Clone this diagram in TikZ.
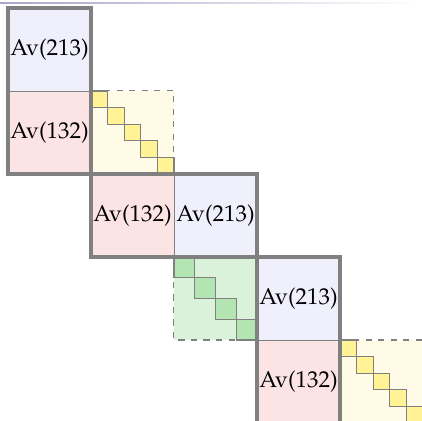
\documentclass[tikz,border=0pt]{standalone}
\usepackage[T1]{fontenc}
\usepackage{mathpazo}
\usepackage{xcolor}
\usetikzlibrary{positioning}

\definecolor{lavfill}{RGB}{240,240,252}
\definecolor{pnkfill}{RGB}{253,228,228}
\definecolor{ylwfill}{RGB}{255,251,230}
\definecolor{ylwsq}{RGB}{255,243,150}
\definecolor{grnfill}{RGB}{218,242,218}
\definecolor{grnsq}{RGB}{178,229,178}

\tikzset{
  avcell/.style={draw=gray, line width=0.4pt, minimum size=1.4cm, inner sep=0pt, outer sep=0pt,
    font=\fontsize{11}{13}\selectfont},
  lav/.style={avcell, fill=lavfill},
  pnk/.style={avcell, fill=pnkfill},
  blk/.style={draw=gray, line width=1.5pt},
  dashblk/.style={draw=gray, dashed, line width=0.5pt},
  sq/.style={draw=gray, line width=0.6pt},
}

\begin{document}
\begin{tikzpicture}[x=1.4cm, y=-1.4cm]
  \useasboundingbox (-0.096,-0.096) rectangle (4.988,4.976);
  \shade[left color=blue!25!gray!55, right color=white] (-0.096,-0.066) rectangle (4.988,-0.054);

  % diagonal blocks
  \filldraw[fill=ylwfill, dashblk] (1,1) rectangle (2,2);
  \foreach \k in {0,...,4}
    \filldraw[fill=ylwsq, sq] (1+\k/5,1+\k/5) rectangle ++(0.2,0.2);
  \filldraw[fill=grnfill, dashblk] (2,3) rectangle (3,4);
  \foreach \k in {0,...,3}
    \filldraw[fill=grnsq, sq] (2+\k/4,3+\k/4) rectangle ++(0.25,0.25);
  \filldraw[fill=ylwfill, dashblk] (4,4) rectangle (5,5);
  \foreach \k in {0,...,4}
    \filldraw[fill=ylwsq, sq] (4+\k/5,4+\k/5) rectangle ++(0.2,0.2);

  % Av blocks
  \node[lav, anchor=north west] (a1) at (0,0) {Av(213)};
  \node[pnk, below=0pt of a1] (a2) {Av(132)};
  \draw[blk] (a1.north west) rectangle (a2.south east);

  \node[pnk, anchor=north west] (b1) at (1,2) {Av(132)};
  \node[lav, right=0pt of b1] (b2) {Av(213)};
  \draw[blk] (b1.north west) rectangle (b2.south east);

  \node[lav, anchor=north west] (c1) at (3,3) {Av(213)};
  \node[pnk, below=0pt of c1] (c2) {Av(132)};
  \draw[blk] (c1.north west) rectangle (c2.south east);
\end{tikzpicture}
\end{document}
